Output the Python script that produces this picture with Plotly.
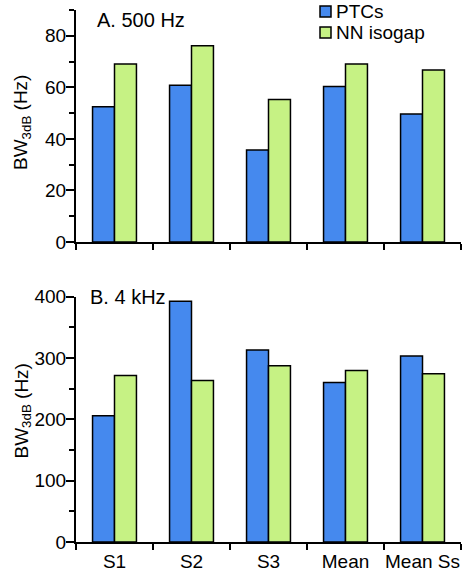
import plotly.graph_objects as go

categories = ["S1", "S2", "S3", "Mean", "Mean Ss"]
series_names = ["PTCs", "NN isogap"]
ptc_500 = [52.5, 60.8, 35.7, 60.3, 49.7]
nn_500 = [69.1, 76.1, 55.3, 69.1, 66.7]
ptc_4k = [205.7, 392.5, 313.0, 260.2, 303.2]
nn_4k = [271.6, 263.5, 287.3, 279.8, 274.3]

BLUE = "#4589EE"
GREEN = "#C6F284"
COLORS = [BLUE, GREEN]
FONT = "Liberation Sans, Arial, sans-serif"
FS = 19

W, H = 462, 572
ML, MR, MT, MB = 76, 1, 0, 30
PW, PH = W - ML - MR, H - MT - MB


def px_x(px):
    return (px - ML) / PW


def px_y(py):
    return (H - MB - py) / PH


fig = go.Figure()
line = dict(color="black", width=1.5)
for name, col, vals in zip(series_names, COLORS, [ptc_500, nn_500]):
    fig.add_trace(go.Bar(x=categories, y=vals, name=name, marker=dict(color=col, line=line),
                         xaxis="x", yaxis="y", showlegend=False))
for name, col, vals in zip(series_names, COLORS, [ptc_4k, nn_4k]):
    fig.add_trace(go.Bar(x=categories, y=vals, name=name, marker=dict(color=col, line=line),
                         xaxis="x2", yaxis="y2", showlegend=False))

xcommon = dict(showline=True, linecolor="black", linewidth=2, ticks="outside", ticklen=6,
               tickwidth=1.5, tickcolor="black", tickson="boundaries", showgrid=False,
               zeroline=False, tickangle=0, automargin=False,
               tickfont=dict(family=FONT, size=FS, color="black"))
ycommon = dict(showline=True, linecolor="black", linewidth=2, ticks="outside", ticklen=8,
               tickwidth=1.5, tickcolor="black", showgrid=False, zeroline=False, automargin=False,
               ticklabelstandoff=-4,
               tickfont=dict(family=FONT, size=FS, color="black"))
yinner = dict(showline=False, ticks="inside", ticklen=5, tickwidth=1.5, tickcolor="black",
              showgrid=False, zeroline=False, showticklabels=False, automargin=False)

top_dom = [px_y(242), px_y(10)]
bot_dom = [0, px_y(296.7)]

fig.update_layout(
    width=W, height=H,
    margin=dict(l=ML, r=MR, t=MT, b=MB),
    plot_bgcolor="white", paper_bgcolor="white",
    barmode="group", bargap=0.43, bargroupgap=0,
    showlegend=False,
    font=dict(family=FONT, size=FS, color="black"),
    xaxis=dict(domain=[0, 1], anchor="y", showticklabels=False, **xcommon),
    yaxis=dict(domain=top_dom, anchor="x", range=[0, 90], tickvals=[0, 20, 40, 60, 80],
               minor=dict(tickvals=[10, 30, 50, 70, 90], ticks="outside", ticklen=5,
                          tickwidth=1.5, tickcolor="black"), **ycommon),
    yaxis3=dict(overlaying="y", anchor="x", range=[0, 90], tickvals=[20, 40, 60, 80],
                minor=dict(tickvals=[10, 30, 50, 70, 90], ticks="inside", ticklen=4,
                           tickwidth=1.5, tickcolor="black"), **yinner),
    xaxis2=dict(domain=[0, 1], anchor="y2", ticklabelstandoff=1, **xcommon),
    yaxis2=dict(domain=bot_dom, anchor="x2", range=[0, 400], tickvals=[0, 100, 200, 300, 400],
                minor=dict(tickvals=[50, 150, 250, 350], ticks="outside", ticklen=5,
                           tickwidth=1.5, tickcolor="black"), **ycommon),
    yaxis4=dict(overlaying="y2", anchor="x2", range=[0, 400], tickvals=[100, 200, 300, 400],
                minor=dict(tickvals=[50, 150, 250, 350], ticks="inside", ticklen=4,
                           tickwidth=1.5, tickcolor="black"), **yinner),
)

# legend drawn as swatches + text
shapes = []
annotations = []
for i, (name, col) in enumerate(zip(series_names, COLORS)):
    cy = 11.5 + 21 * i
    shapes.append(dict(type="rect", xref="paper", yref="paper",
                       x0=px_x(320), x1=px_x(331), y0=px_y(cy + 5.5), y1=px_y(cy - 5.5),
                       fillcolor=col, line=dict(color="black", width=1.5)))
    annotations.append(dict(text=name, x=px_x(334), y=px_y(cy), xref="paper", yref="paper",
                            xanchor="left", yanchor="middle", showarrow=False,
                            font=dict(family=FONT, size=FS, color="black")))

annotations += [
    dict(text="A. 500 Hz", x=px_x(95), y=px_y(19.5), xref="paper", yref="paper", xanchor="left",
         yanchor="middle", showarrow=False, font=dict(family=FONT, size=20, color="black")),
    dict(text="B. 4 kHz", x=px_x(88), y=px_y(297), xref="paper", yref="paper", xanchor="left",
         yanchor="middle", showarrow=False, font=dict(family=FONT, size=20, color="black")),
    dict(text="BW<sub>3dB</sub> (Hz)", x=px_x(22), y=px_y(123), xref="paper", yref="paper",
         xanchor="center", yanchor="middle", textangle=-90, showarrow=False,
         font=dict(family=FONT, size=FS, color="black")),
    dict(text="BW<sub>3dB</sub> (Hz)", x=px_x(22), y=px_y(411.5), xref="paper", yref="paper",
         xanchor="center", yanchor="middle", textangle=-90, showarrow=False,
         font=dict(family=FONT, size=FS, color="black")),
]
fig.update_layout(shapes=shapes, annotations=annotations)

fig.write_html("out.html", config={"displayModeBar": False},
               post_script="document.body.style.margin='0';")
